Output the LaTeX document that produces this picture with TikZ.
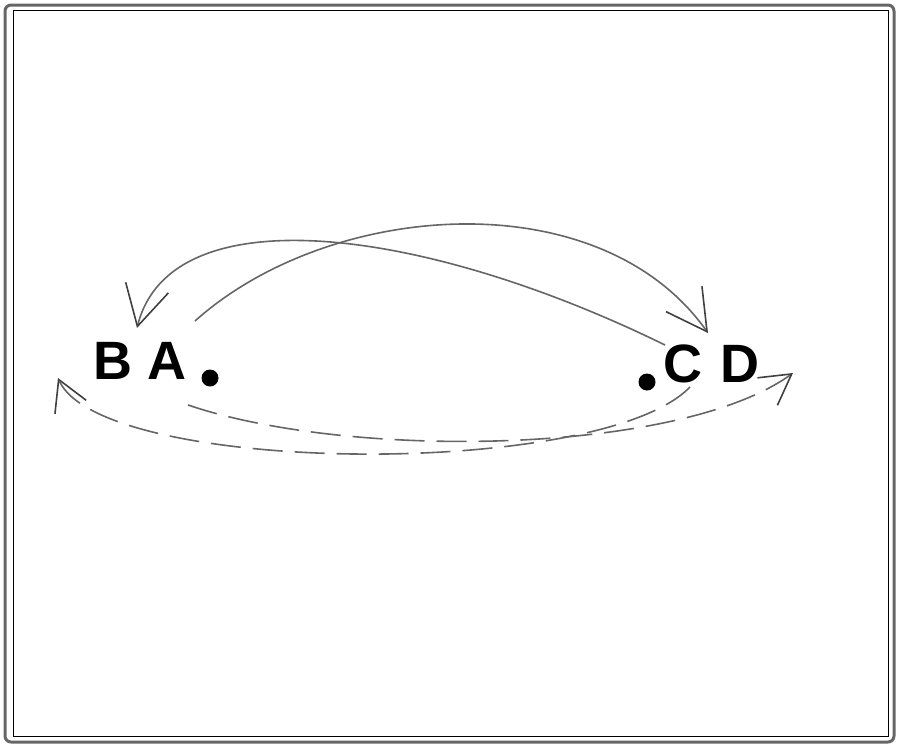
\documentclass[tikz,border=0pt]{standalone}
\usepackage{fontspec}
\setmainfont{Liberation Sans}
\usetikzlibrary{arrows.meta,positioning}
\tikzset{
  letter/.style={font=\fontsize{54}{54}\selectfont\bfseries, inner sep=0pt},
  spot/.style={circle, fill=black, inner sep=0pt, minimum size=17pt},
  link/.style={draw=black!60, line width=1.6pt,
    -{Straight Barb[length=40pt,width=44pt,line width=1.6pt,color=black!75]}},
  dashlink/.style={link, dash pattern=on 30pt off 12pt,
    -{Straight Barb[length=30pt,width=34pt,line width=1.6pt,color=black!75]}},
}
\begin{document}
\begin{tikzpicture}[x=1pt,y=-1pt]
            \useasboundingbox (0,0) rectangle (900,747);
            \draw[black!60, line width=3pt, rounded corners=6pt] (5,5) rectangle (894,742);
            \draw[black, line width=0.8pt] (13,10) rectangle (888,736);

            \node[letter] (B) at (113,361) {B};
            \node[letter] (A) [right of=B, node distance=54pt] {A};
            \node[spot] (a) at (210,378) {};
            \node[letter] (C) at (683,364) {C};
            \node[letter] (D) [right of=C, node distance=57pt] {D};
            \node[spot] (c) at (647,382) {};

            % upper arcs
            \draw[link] ([shift={(28,-40)}]A.center) .. controls (330,200) and (600,180) .. ([shift={(-32,-31)}]D.center);
            \draw[link] ([shift={(-18,-19)}]C.center) .. controls (420,225) and (170,195) .. ([shift={(24,-33)}]B.center);
            % lower arcs
            \draw[dashlink] ([shift={(21,44)}]A.center) .. controls (350,460) and (680,455) .. ([shift={(53,9)}]D.center);
            \draw[dashlink] ([shift={(7,23)}]C.center) .. controls (600,480) and (100,475) .. ([shift={(-55,17)}]B.center);
\end{tikzpicture}
\end{document}
